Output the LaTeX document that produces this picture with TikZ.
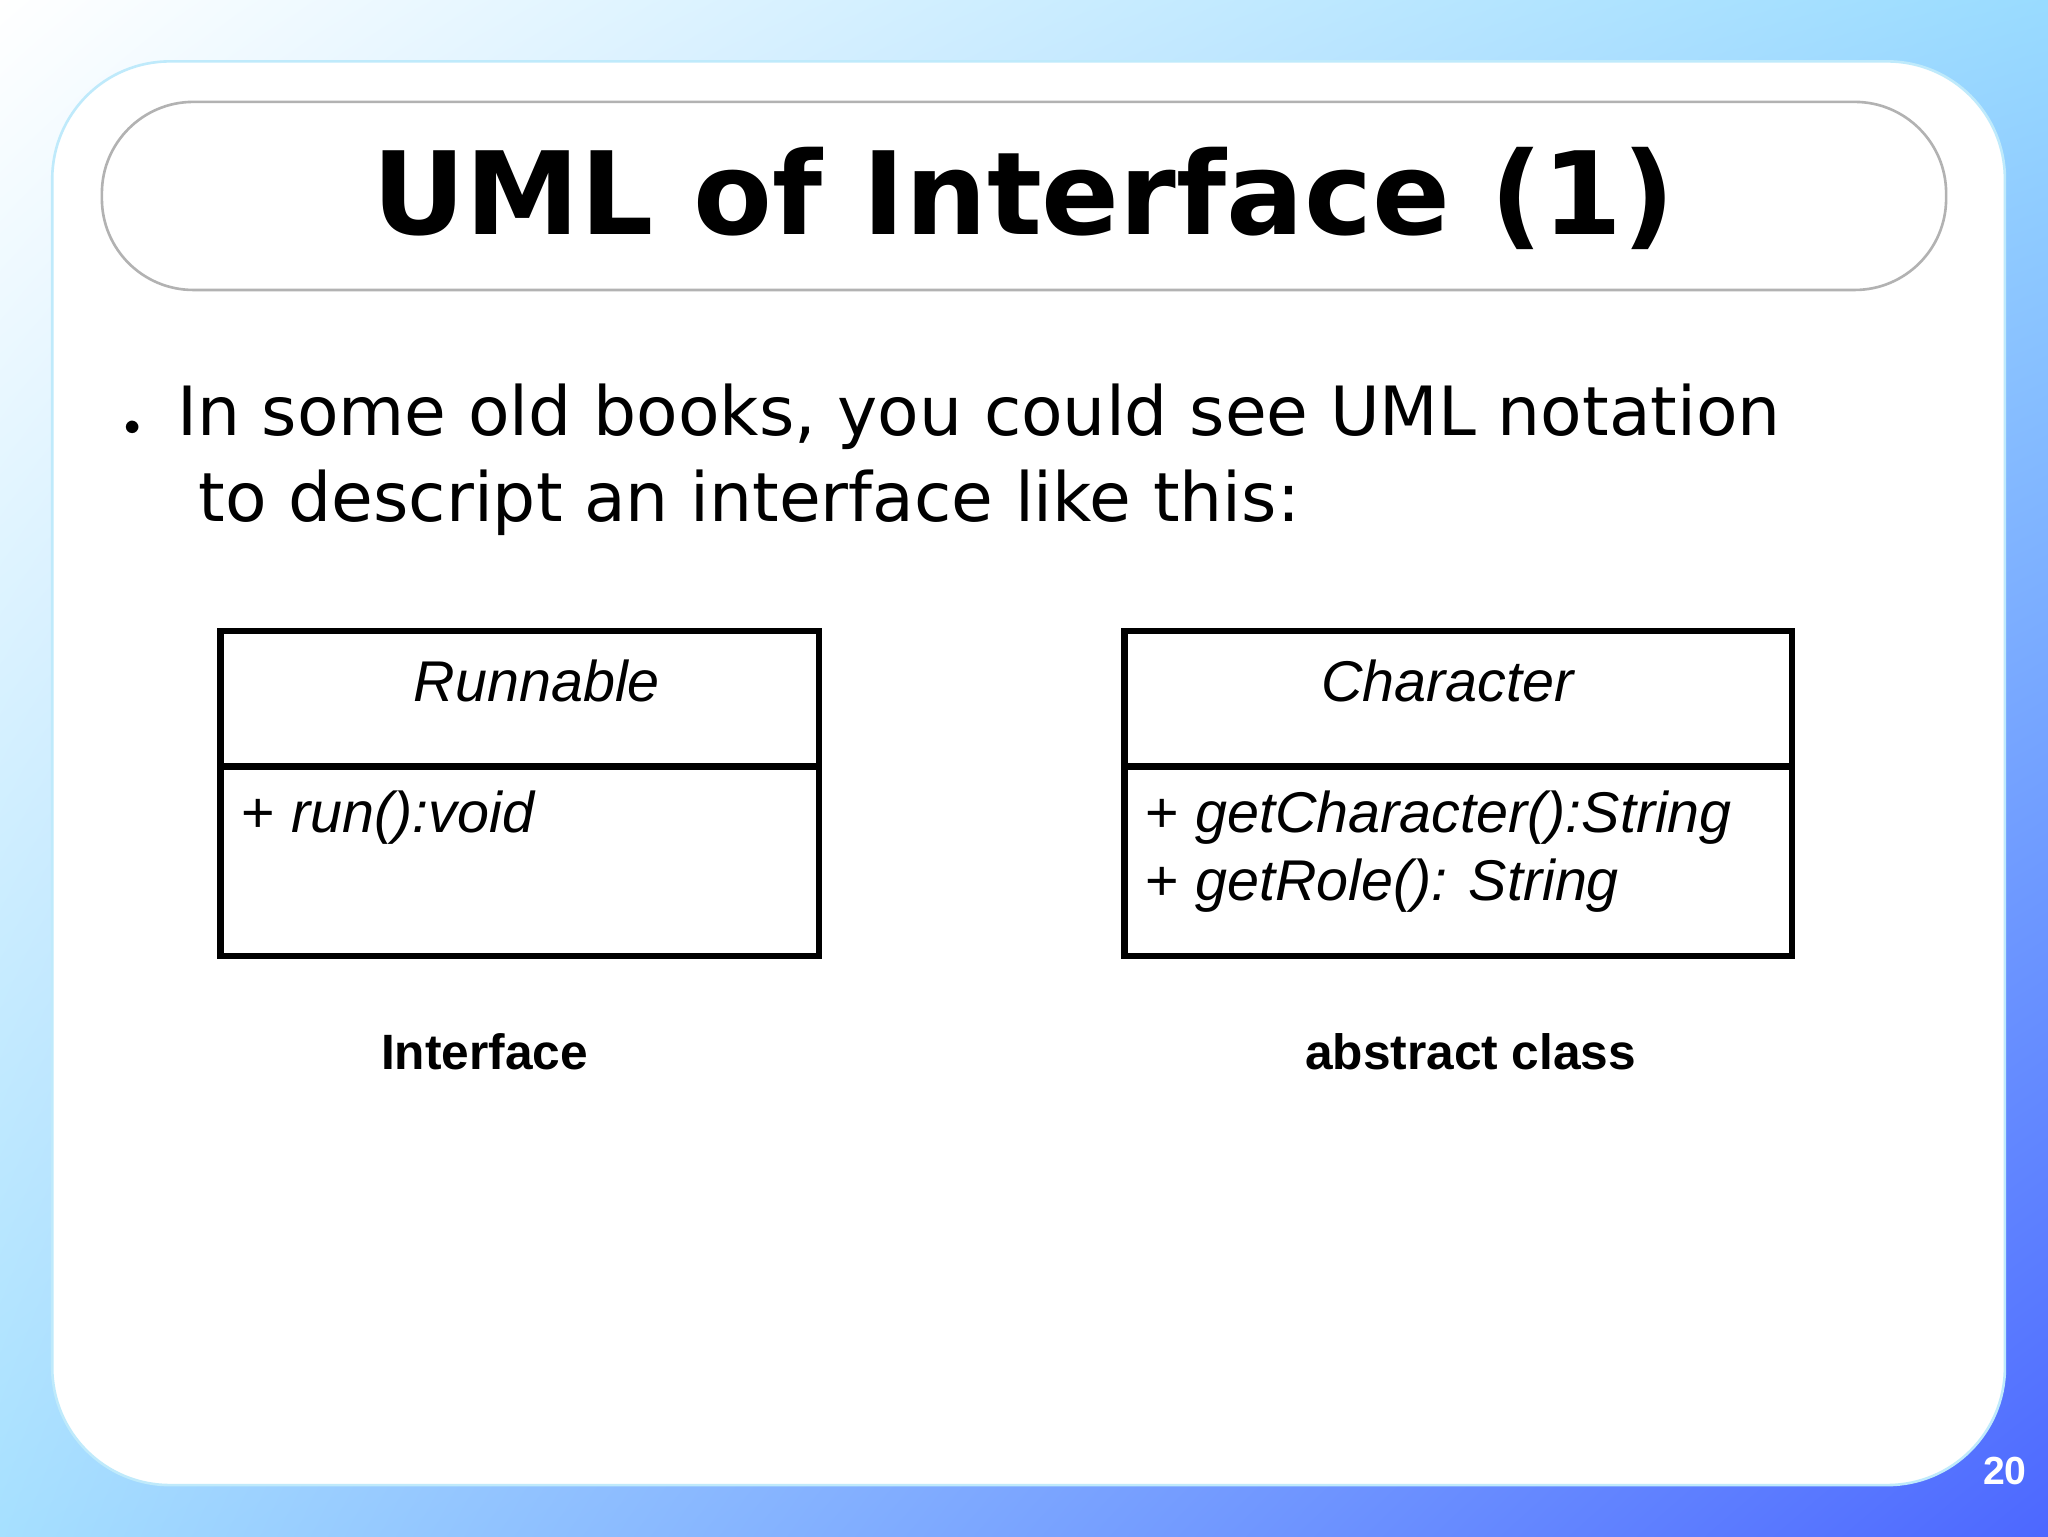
\documentclass[tikz,border=0pt]{standalone}
\usepackage{fontspec}
\usetikzlibrary{shadings}
\setmainfont{DejaVu Sans}
\newfontfamily\arialf{Liberation Sans}
\begin{document}
\begin{tikzpicture}[x=1pt,y=-1pt,
  umlbox/.style={draw=black,line width=5pt},
  boxtxt/.style={font=\arialf\fontsize{44}{52}\selectfont\itshape,anchor=west,inner sep=0pt},
  captxt/.style={font=\arialf\bfseries\fontsize{38}{44}\selectfont,inner sep=0pt}]
\useasboundingbox (0,0) rectangle (1568,1176);
\shade[upper left=white,upper right=blue!35!cyan!40,lower left=blue!35!cyan!35,lower right=blue!85!cyan!70] (0,0) rectangle (1568,1176);
\fill[white,draw=cyan!25,line width=2pt,rounded corners=90pt] (40,47) rectangle (1535,1137);
\node[draw=gray!60,line width=2pt,rounded corners=70pt,minimum width=1412pt,minimum height=144pt] (title) at (784,150) {};
\node[font=\bfseries\fontsize{88}{100}\selectfont] (tt) at (784,152) {UML of Interface (1)};
\node[anchor=west,font=\fontsize{52}{66}\selectfont,align=left,inner sep=0pt] (body) at (95,352) {%
$\bullet$\hspace{28pt}In some old books, you could see UML notation\\
\hspace{57pt}to descript an interface like this:};
% Runnable
\draw[umlbox] (169,483) rectangle (627,732);
\draw[umlbox] (169,587) -- (627,587);
\node[boxtxt,anchor=center] (r1) at (411,521) {Runnable};
\node[boxtxt] (r2) at (185,626) {\upshape+ \itshape run():void};
% Character
\draw[umlbox] (861,483) rectangle (1372,732);
\draw[umlbox] (861,587) -- (1372,587);
\node[boxtxt,anchor=center] (c1) at (1108,521) {Character};
\node[boxtxt] (c2) at (877,626) {\upshape+ \itshape getCharacter():String};
\node[boxtxt] (c3) at (877,678) {\upshape+ \itshape getRole(): String};
\node[captxt] (l1) at (371,805) {Interface};
\node[captxt] (l2) at (1126,805) {abstract class};
\node[font=\arialf\bfseries\fontsize{30}{34}\selectfont,text=white,inner sep=0pt] (pg) at (1535,1126) {20};
\end{tikzpicture}
\end{document}
